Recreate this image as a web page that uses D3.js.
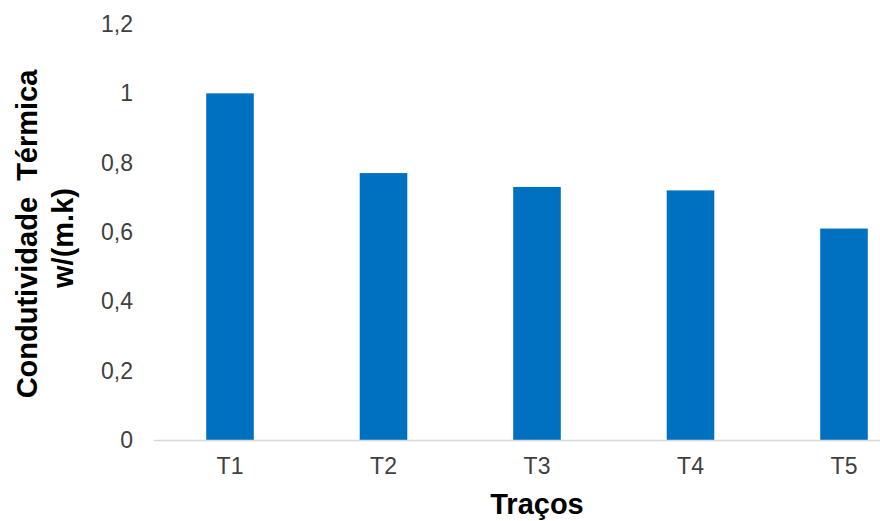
<!DOCTYPE html>
<html>
<head>
<meta charset="utf-8">
<script src="https://cdn.jsdelivr.net/npm/d3@7"></script>
<style>
  html, body { margin: 0; padding: 0; background: #fff; }
  svg { display: block; }
</style>
</head>
<body>
<svg id="chart" width="880" height="521"></svg>
<script>
const categories = ["T1", "T2", "T3", "T4", "T5"];
const values = [1.0, 0.77, 0.73, 0.72, 0.61];
const yTicks = [0, 0.2, 0.4, 0.6, 0.8, 1.0, 1.2];
const yTitleLines = ["Condutividade  Térmica", "w/(m.k)"];
const xTitle = "Traços";

const svg = d3.select("#chart");
const font = "'Liberation Sans', Arial, sans-serif";

const x = d3.scaleBand()
  .domain(categories)
  .range([153.25, 920.75])
  .paddingInner(0.69)
  .paddingOuter(0.345);

const y = d3.scaleLinear()
  .domain([0, 1.2])
  .range([440, 24]);

// bars
svg.append("g")
  .selectAll("rect")
  .data(categories.map((c, i) => ({ c, v: values[i] })))
  .join("rect")
  .attr("x", d => x(d.c))
  .attr("y", d => y(d.v))
  .attr("width", x.bandwidth())
  .attr("height", d => y(0) - y(d.v))
  .attr("fill", "#0070C0");

// x axis
const fmt = v => String(+v.toFixed(1)).replace(".", ",");
const xAxis = svg.append("g")
  .attr("transform", `translate(0,${y(0)})`)
  .call(d3.axisBottom(x).tickSize(0).tickPadding(18));
xAxis.select(".domain").attr("stroke", "#d9d9d9").attr("stroke-width", 1.5);
xAxis.selectAll("text")
  .attr("font-family", font)
  .attr("font-size", 23)
  .attr("fill", "#404040");

// y axis (labels only)
const yAxis = svg.append("g")
  .attr("transform", "translate(153,0)")
  .call(d3.axisLeft(y).tickValues(yTicks).tickFormat(fmt).tickSize(0).tickPadding(20));
yAxis.select(".domain").remove();
yAxis.selectAll("text")
  .attr("font-family", font)
  .attr("font-size", 23)
  .attr("fill", "#404040");

// y title
const yt = svg.append("text")
  .attr("transform", "rotate(-90)")
  .attr("font-family", font)
  .attr("font-weight", "bold")
  .attr("font-size", 29)
  .attr("fill", "#000")
  .attr("text-anchor", "middle")
  .style("white-space", "pre");
yt.append("tspan").attr("x", -234).attr("y", 37).text(yTitleLines[0]);
yt.append("tspan").attr("x", -238).attr("y", 73).text(yTitleLines[1]);

// x title
svg.append("text")
  .attr("x", (x.range()[0] + x.range()[1]) / 2)
  .attr("y", 514)
  .attr("text-anchor", "middle")
  .attr("font-family", font)
  .attr("font-weight", "bold")
  .attr("font-size", 29)
  .attr("fill", "#000")
  .text(xTitle);
</script>
</body>
</html>
